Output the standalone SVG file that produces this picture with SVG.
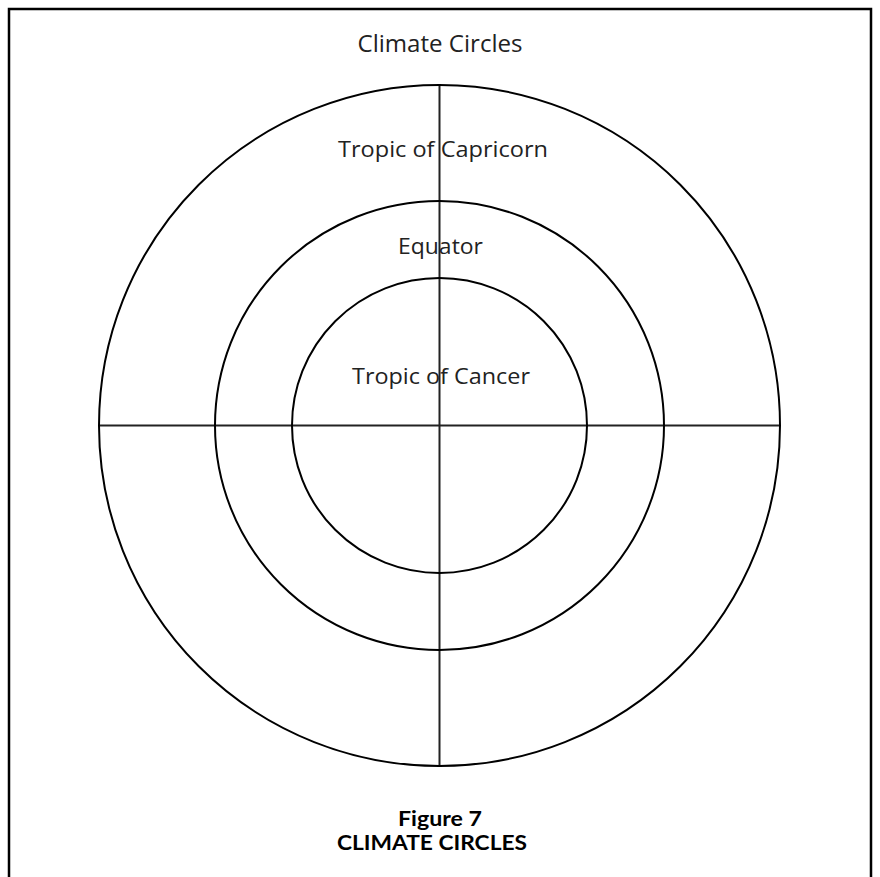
<svg xmlns="http://www.w3.org/2000/svg" width="880" height="877" viewBox="0 0 880 877">
<style>
.ring{fill:none;stroke:#000;stroke-width:2}
.ax{stroke:#222;stroke-width:2}
.lbl{font-family:"Open Sans","Liberation Sans",sans-serif;font-size:22px;fill:#222;text-anchor:middle}
.cap{font-family:"Lato","Open Sans",sans-serif;font-weight:bold;font-size:20px;fill:#000;text-anchor:middle}
</style>
<rect width="880" height="877" fill="#fff"/>
<path d="M9 880 V9 H871 V880" fill="none" stroke="#000" stroke-width="2.5"/>
<g id="connectors">
<line class="ax" x1="439.5" y1="85" x2="439.5" y2="766"/>
<line class="ax" x1="99" y1="425.5" x2="780" y2="425.5"/>
</g>
<g id="outer"><circle class="ring" cx="439.5" cy="425.5" r="340.5"/></g>
<g id="middle"><circle class="ring" cx="439.5" cy="425.5" r="224.5"/></g>
<g id="inner"><circle class="ring" cx="439.5" cy="425.5" r="147.5"/></g>
<g id="labels">
<text class="lbl" x="440" y="52" style="font-size:23px" textLength="165" lengthAdjust="spacingAndGlyphs">Climate Circles</text>
<text class="lbl" x="443" y="157" textLength="210" lengthAdjust="spacingAndGlyphs">Tropic of Capricorn</text>
<text class="lbl" x="440.5" y="254" textLength="85" lengthAdjust="spacingAndGlyphs">Equator</text>
<text class="lbl" x="441" y="384" textLength="178" lengthAdjust="spacingAndGlyphs">Tropic of Cancer</text>
</g>
<g id="caption">
<text class="cap" x="440" y="826" textLength="84" lengthAdjust="spacingAndGlyphs">Figure 7</text>
<text class="cap" x="432" y="850" textLength="190" lengthAdjust="spacingAndGlyphs">CLIMATE CIRCLES</text>
</g>
</svg>
